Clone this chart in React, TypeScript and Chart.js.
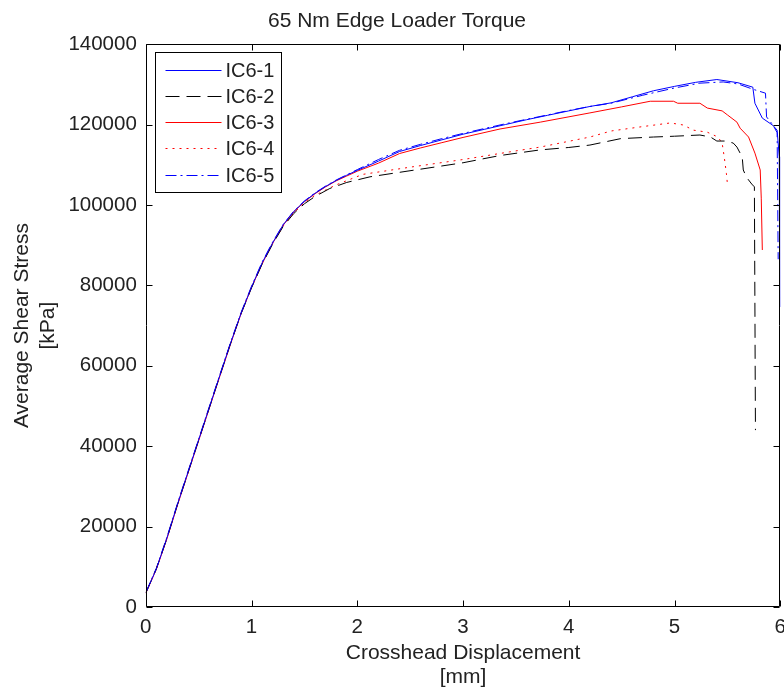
import React, { useEffect, useRef } from 'react';
import { Chart, registerables } from 'chart.js';

Chart.register(...registerables);

const chartTitle = '65 Nm Edge Loader Torque';
const xTitle = ['Crosshead Displacement', '[mm]'];
const yTitle = ['Average Shear Stress', '[kPa]'];
const xMin = 0, xMax = 6, xStep = 1;
const yMin = 0, yMax = 140000, yStep = 20000;

const seriesLabels = ['IC6-1', 'IC6-2', 'IC6-3', 'IC6-4', 'IC6-5'];

const ic61X = [0,0.1,0.2,0.3,0.4,0.5,0.6,0.7,0.8,0.9,1.0,1.1,1.2,1.3,1.4,1.5,1.6,1.7,1.8,1.9,2.0,2.2,2.4,2.6,2.8,3.0,3.2,3.4,3.6,3.8,4.0,4.2,4.4,4.6,4.8,5.0,5.2,5.4,5.6,5.74,5.76,5.83,5.93,5.97,5.99,5.995];
const ic61Y = [3500,9500,17200,25600,33600,41600,49600,57600,65500,73000,79600,85600,90600,95100,98400,100900,102900,104600,106100,107400,108600,110900,113300,114800,116200,117600,118800,120000,121200,122300,123400,124500,125400,126900,128400,129500,130500,131200,130400,129300,125300,121600,119800,118600,112000,74600];

const ic62X = [0,0.1,0.2,0.3,0.4,0.5,0.6,0.7,0.8,0.9,1.0,1.1,1.2,1.3,1.4,1.5,1.6,1.74,1.9,2.12,2.47,2.8,3.0,3.35,3.73,4.0,4.2,4.49,4.8,5.0,5.24,5.34,5.4,5.48,5.555,5.59,5.64,5.65,5.68,5.73,5.755,5.765];
const ic62Y = [3500,9500,17100,25500,33500,41500,49500,57500,65400,72900,79400,85300,90300,94700,97900,100300,102100,104100,105600,107000,108400,109700,110500,112300,113700,114300,114900,116500,116900,117100,117400,116900,115900,115900,115400,114400,111900,108700,106900,105200,104500,44000];

const ic63X = [0,0.1,0.2,0.3,0.4,0.5,0.6,0.7,0.8,0.9,1.0,1.1,1.2,1.3,1.4,1.5,1.6,1.7,1.8,1.9,2.0,2.2,2.4,2.6,2.8,3.0,3.35,3.73,4.2,4.5,4.77,4.99,5.03,5.24,5.31,5.45,5.5,5.59,5.62,5.7,5.76,5.81,5.82,5.83];
const ic63Y = [3400,9400,17000,25400,33400,41400,49400,57400,65300,72900,79500,85400,90500,95000,98300,100800,102800,104500,106000,107200,108400,110400,112800,114200,115500,116800,118900,120600,122900,124400,125800,125800,125300,125300,124100,123400,122400,120600,119100,116900,112900,108700,101700,88800];

const ic64X = [0,0.1,0.2,0.3,0.4,0.5,0.6,0.7,0.8,0.9,1.0,1.1,1.2,1.3,1.4,1.5,1.6,1.8,2.05,2.5,3.0,3.44,3.73,4.2,4.4,4.7,4.96,5.08,5.18,5.31,5.41,5.45,5.47,5.49,5.5];
const ic64Y = [3500,9600,17200,25600,33600,41600,49600,57600,65500,73000,79500,85400,90400,94800,98000,100500,102400,105000,107600,109400,111300,113200,114400,116900,118400,119500,120400,119900,118600,118100,116900,115400,111900,107900,105200];

const ic65X = [0,0.1,0.2,0.3,0.4,0.5,0.6,0.7,0.8,0.9,1.0,1.1,1.2,1.3,1.4,1.5,1.6,1.7,1.8,1.9,2.0,2.2,2.4,2.6,2.8,3.0,3.2,3.4,3.6,3.8,4.0,4.2,4.4,4.7,5.0,5.24,5.46,5.6,5.74,5.86,5.87,5.93,5.97,5.98];
const ic65Y = [3600,9700,17400,25800,33800,41800,49800,57800,65700,73200,79800,85800,90800,95200,98500,101000,103000,104700,106200,107500,108800,111300,113600,115100,116500,117800,119000,120200,121300,122400,123500,124500,125300,127300,129100,130300,130600,130100,128800,127800,121900,119900,118000,86500];

const seriesX = [ic61X, ic62X, ic63X, ic64X, ic65X];
const seriesY = [ic61Y, ic62Y, ic63Y, ic64Y, ic65Y];
const seriesColors = ['#0000ff', '#000000', '#ff0000', '#ff0000', '#0000ff'];
const seriesDash = [[], [14, 7], [], [2, 5], [11, 4, 2, 4]];

const FONT = "'Liberation Sans', Arial, Helvetica, sans-serif";
const TEXT = '#222222';

const matlabPlugin = {
  id: 'matlabBox',
  afterDatasetsDraw(chart: any) {
    const { ctx, chartArea } = chart;
    const { left, right, top, bottom } = chartArea;
    const xs = chart.scales.x;
    const ys = chart.scales.y;
    ctx.save();
    ctx.strokeStyle = '#000000';
    ctx.lineWidth = 1;
    ctx.setLineDash([]);
    const L = Math.round(left) + 0.5;
    const R = Math.round(right) - 0.5;
    const T = Math.round(top) + 0.5;
    const B = Math.round(bottom) - 0.5;
    ctx.beginPath();
    ctx.rect(L, T, R - L, B - T);
    ctx.stroke();
    const tl = 6;
    ctx.beginPath();
    for (let v = xMin; v <= xMax; v += xStep) {
      const px = Math.round(xs.getPixelForValue(v)) + 0.5;
      ctx.moveTo(px, B); ctx.lineTo(px, B - tl);
      ctx.moveTo(px, T); ctx.lineTo(px, T + tl);
    }
    for (let v = yMin; v <= yMax; v += yStep) {
      const py = Math.round(ys.getPixelForValue(v)) + 0.5;
      ctx.moveTo(L, py); ctx.lineTo(L + tl, py);
      ctx.moveTo(R, py); ctx.lineTo(R - tl, py);
    }
    ctx.stroke();

    // legend box (MATLAB style, inside axes)
    const bx = Math.round(left) + 9.5;
    const by = Math.round(top) + 8.5;
    const bw = 126;
    const bh = 140;
    ctx.fillStyle = '#ffffff';
    ctx.fillRect(bx, by, bw, bh);
    ctx.strokeStyle = '#000000';
    ctx.strokeRect(bx, by, bw, bh);
    ctx.font = `20px ${FONT}`;
    ctx.textBaseline = 'middle';
    ctx.textAlign = 'left';
    chart.data.datasets.forEach((ds: any, i: number) => {
      const cy = Math.round(by + 17 + i * 26.3) + 0.5;
      ctx.strokeStyle = seriesColors[i];
      ctx.lineWidth = 1;
      ctx.setLineDash(seriesDash[i]);
      ctx.beginPath();
      ctx.moveTo(bx + 10, cy);
      ctx.lineTo(bx + 66, cy);
      ctx.stroke();
      ctx.setLineDash([]);
      ctx.fillStyle = TEXT;
      ctx.fillText(ds.label, bx + 70, cy + 1);
    });
    ctx.restore();
  },
};

export default function App() {
  const ref = useRef<HTMLCanvasElement | null>(null);
  useEffect(() => {
    if (!ref.current) return;
    const datasets = seriesLabels.map((label, i) => ({
      label,
      data: seriesX[i].map((x, j) => ({ x, y: seriesY[i][j] })),
      borderColor: seriesColors[i],
      backgroundColor: seriesColors[i],
      borderWidth: 1,
      borderDash: seriesDash[i],
      pointRadius: 0,
      tension: 0,
      fill: false,
    }));
    const chart = new Chart(ref.current, {
      type: 'line',
      data: { datasets },
      options: {
        animation: false,
        responsive: false,
        layout: { padding: 0 },
        plugins: {
          legend: { display: false },
          tooltip: { enabled: false },
          title: {
            display: true,
            text: chartTitle,
            color: TEXT,
            font: { family: FONT, size: 21, weight: 'normal', lineHeight: 1.15 },
            padding: { top: 9, bottom: 11 },
          },
        },
        scales: {
          x: {
            type: 'linear',
            min: xMin,
            max: xMax,
            grid: { display: false, drawTicks: false },
            border: { display: false },
            ticks: {
              stepSize: xStep,
              padding: 8,
              color: TEXT,
              font: { family: FONT, size: 20.5 },
              callback: (v: any) => String(v),
            },
            title: {
              display: true,
              text: xTitle,
              color: TEXT,
              font: { family: FONT, size: 21, lineHeight: 1.15 },
              padding: { top: -6.9, bottom: -2 },
            },
          },
          y: {
            type: 'linear',
            min: yMin,
            max: yMax,
            grid: { display: false, drawTicks: false },
            border: { display: false },
            ticks: {
              stepSize: yStep,
              padding: 9,
              color: TEXT,
              font: { family: FONT, size: 20.5 },
              callback: (v: any) => String(v),
            },
            title: {
              display: true,
              text: yTitle,
              color: TEXT,
              font: { family: FONT, size: 21, lineHeight: 1.2 },
              padding: { top: 10, bottom: -1 },
            },
          },
        },
      },
      plugins: [matlabPlugin],
    });
    return () => chart.destroy();
  }, []);
  return (
    <div style={{ position: 'absolute', left: 0, top: 0, width: 784, height: 687, overflow: 'hidden', background: '#fff' }}>
      <canvas ref={ref} width={794} height={687} style={{ display: 'block' }} />
    </div>
  );
}
